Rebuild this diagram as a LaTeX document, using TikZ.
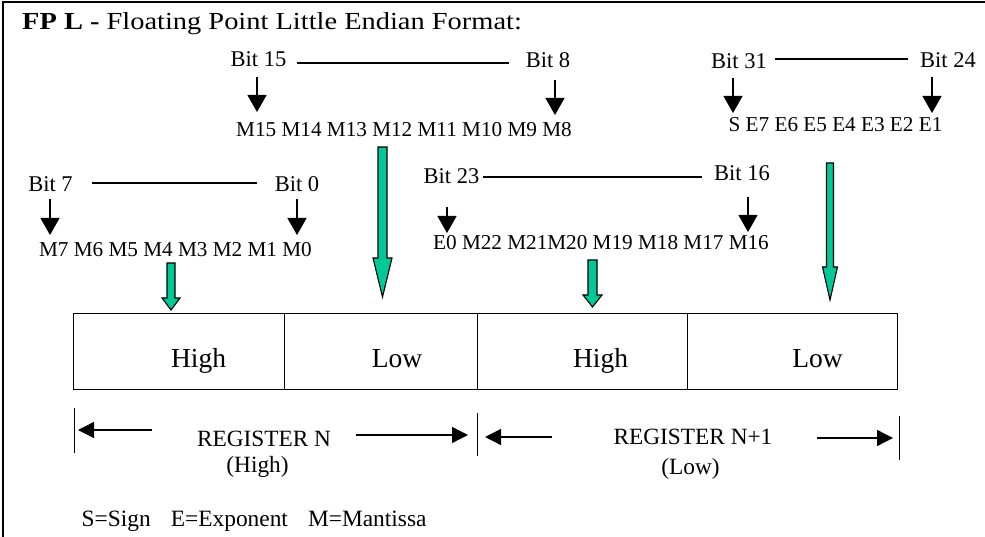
\documentclass[tikz,border=0pt]{standalone}
\usepackage{fontspec}
\setmainfont{Liberation Serif}
\newfontfamily\titlefont[FakeStretch=1.16]{Liberation Serif}
\usetikzlibrary{arrows.meta}
\definecolor{gfill}{RGB}{0,200,150}
\newcommand\blockarrow[6]{%
  \filldraw[garrow] (#1-#5,#2) -- (#1+#5,#2) -- (#1+#5,#3) -- (#1+#6,#3) -- (#1,#4) -- (#1-#6,#3) -- (#1-#5,#3) -- cycle;}
\tikzset{
  lbl/.style={inner sep=0pt, anchor=base},
  bitlbl/.style={lbl, font=\fontsize{22.5}{27}\selectfont},
  rowlbl/.style={lbl, font=\fontsize{21.2}{25}\selectfont},
  celltxt/.style={lbl, font=\fontsize{27.5}{32}\selectfont},
  regtxt/.style={lbl, font=\fontsize{23.3}{28}\selectfont},
  cellbox/.style={draw, line width=1.2pt, anchor=north west, minimum height=76pt, inner sep=0pt},
  barline/.style={line width=1.1pt},
  blk/.style={line width=1.3pt, -{Triangle[width=19pt,length=17pt]}},
  regarrow/.style={line width=1.3pt, -{Triangle[width=16pt,length=16pt]}},
  tick/.style={line width=1pt},
  garrow/.style={draw=black, line width=1.1pt, fill=gfill, line join=miter},
}
\begin{document}
\begin{tikzpicture}[x=1pt,y=-1pt]
\useasboundingbox (0,0) rectangle (985,537);
% frame
\draw[line width=1.5pt] (3,537) -- (3,2) -- (985,2);
% title
\node[inner sep=0pt, anchor=base west, font=\titlefont\fontsize{24.5}{29}\selectfont] (title) at (22,30)
  {\textbf{FP L -} Floating Point Little Endian Format:};
% bit labels
\node[bitlbl] (b15) at (258.5,67) {Bit 15};
\node[bitlbl] (b8)  at (548,68) {Bit 8};
\node[bitlbl] (b31) at (739,69) {Bit 31};
\node[bitlbl] (b24) at (948,68) {Bit 24};
\node[bitlbl] (b23) at (451.5,184) {Bit 23};
\node[bitlbl] (b16) at (742,181) {Bit 16};
\node[bitlbl] (b7)  at (50.5,192) {Bit 7};
\node[bitlbl] (b0)  at (297,192) {Bit 0};
% rows
\node[rowlbl] (rowA) at (404,137) {M15 M14 M13 M12 M11 M10 M9 M8};
\node[rowlbl] (rowB) at (835.5,132) {S E7 E6 E5 E4 E3 E2 E1};
\node[rowlbl] (rowC) at (601,250) {E0 M22 M21M20 M19 M18 M17 M16};
\node[rowlbl] (rowD) at (175.5,257) {M7 M6 M5 M4 M3 M2 M1 M0};
% span lines
\coordinate (s15) at (297,63);  \coordinate (s8)  at (509,63);
\coordinate (s31) at (775,59);  \coordinate (s24) at (908,59);
\coordinate (s23) at (483,177); \coordinate (s16) at (702,177);
\coordinate (s7)  at (92,183);  \coordinate (s0)  at (257,183);
\draw[barline] (s15) -- (s8);
\draw[barline] (s31) -- (s24);
\draw[barline] (s23) -- (s16);
\draw[barline] (s7) -- (s0);
% black arrows
\coordinate (a15s) at (257,77);  \coordinate (a15e) at (257,112);
\coordinate (a8s)  at (555,80);  \coordinate (a8e)  at (555,115);
\coordinate (a31s) at (733,78);  \coordinate (a31e) at (733,113);
\coordinate (a24s) at (932,77);  \coordinate (a24e) at (932,113);
\coordinate (a23s) at (447,207); \coordinate (a23e) at (447,233);
\coordinate (a16s) at (748,197); \coordinate (a16e) at (748,232);
\coordinate (a7s)  at (50,199);  \coordinate (a7e)  at (50,235);
\coordinate (a0s)  at (297,199); \coordinate (a0e)  at (297,235);
\foreach \n in {15,8,31,24,23,16,7,0}{\draw[blk] (a\n s) -- (a\n e);}
% green arrows
\blockarrow{171}{263}{298}{310}{4}{9}
\blockarrow{382.5}{147}{258}{297}{4.5}{9.5}
\blockarrow{592.5}{260}{295}{307}{4.5}{9.5}
\blockarrow{830}{163}{267}{300}{3.5}{7.5}
% register cells
\node[cellbox, minimum width=211pt] (c1) at (73,313) {};
\node[cellbox, minimum width=193pt] (c2) at (284,313) {};
\node[cellbox, minimum width=210pt] (c3) at (477,313) {};
\node[cellbox, minimum width=210pt] (c4) at (687,313) {};
\node[celltxt] (h1) at (198.5,367) {High};
\node[celltxt] (l1) at (397,367) {Low};
\node[celltxt] (h2) at (600.5,367) {High};
\node[celltxt] (l2) at (817.5,367) {Low};
% register spans
\node[regtxt] (rn) at (264,446) {REGISTER N};
\node[regtxt] (rnh) at (257.5,472) {(High)};
\node[regtxt] (rn1) at (693,444) {REGISTER N+1};
\node[regtxt] (rn1l) at (690.5,474) {(Low)};
\coordinate (t1a) at (74,408);  \coordinate (t1b) at (74,453);
\coordinate (t2a) at (477,413); \coordinate (t2b) at (477,456);
\coordinate (t3a) at (899,416); \coordinate (t3b) at (899,460);
\draw[tick] (t1a) -- (t1b);
\draw[tick] (t2a) -- (t2b);
\draw[tick] (t3a) -- (t3b);
\coordinate (r1a) at (152,430); \coordinate (r1b) at (78,430);
\coordinate (r2a) at (356,435); \coordinate (r2b) at (468,435);
\coordinate (r3a) at (552,437); \coordinate (r3b) at (485,437);
\coordinate (r4a) at (817,438); \coordinate (r4b) at (893,438);
\draw[regarrow] (r1a) -- (r1b);
\draw[regarrow] (r2a) -- (r2b);
\draw[regarrow] (r3a) -- (r3b);
\draw[regarrow] (r4a) -- (r4b);
% legend
\node[inner sep=0pt, anchor=base west, font=\fontsize{23.4}{28}\selectfont] (legend) at (81.5,526)
  {S=Sign\hspace{20pt}E=Exponent\hspace{20pt}M=Mantissa};
\end{tikzpicture}
\end{document}
